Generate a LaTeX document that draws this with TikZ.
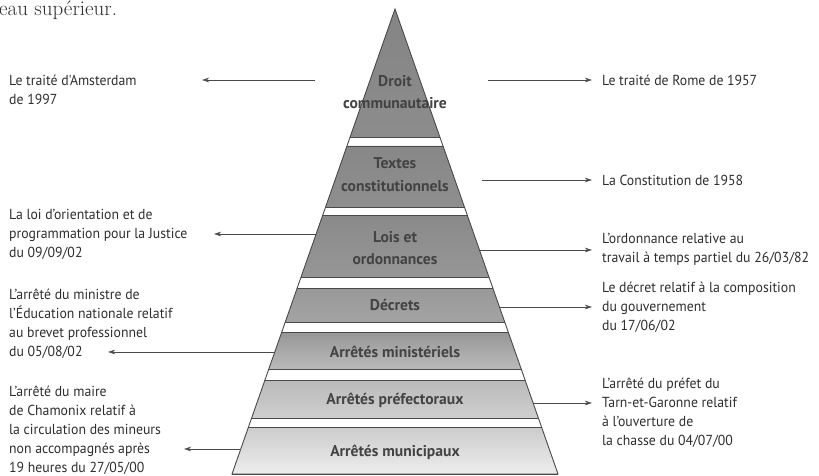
\documentclass[tikz,border=0pt]{standalone}
\usepackage{fontspec}
\setsansfont{PT Sans}
\newfontfamily\etroit{PT Sans}[FakeStretch=0.95]
\usetikzlibrary{arrows.meta,calc}
\definecolor{texte}{HTML}{2E2E2E}
\definecolor{trait}{HTML}{4A4A4A}
\tikzstyle{fleche}=[draw=trait,line width=0.6pt,-{Stealth[length=7pt,width=4.5pt,inset=2pt]}]
\tikzstyle{renvoi}=[inner sep=0pt,anchor=west,text=texte,align=left,font=\etroit\fontsize{14.5}{19}\selectfont]
\tikzstyle{niveau}=[inner sep=0pt,text=texte!90,align=center,font=\sffamily\bfseries\fontsize{15.6}{22.5}\selectfont]
\tikzstyle{bord}=[draw=trait,line width=0.7pt]
\newcommand{\setpyramid}[4]{

\pgfmathsetmacro{\cx}{#1}
\pgfmathsetmacro{\ay}{#2}
\pgfmathsetmacro{\by}{#3}
\pgfmathsetmacro{\hw}{#4}
\pgfmathsetmacro{\pente}{\hw/(\by-\ay)}
\coordinate (apex) at (\cx,\ay);
\coordinate (baseL) at (\cx-\hw,\by);
\coordinate (baseR) at (\cx+\hw,\by);

}
\newcommand{\drawband}[4]{

\pgfmathsetmacro{\xt}{\pente*(#1-\ay)}
\pgfmathsetmacro{\xb}{\pente*(#2-\ay)}
\shade[top color=#3,bottom color=#4] (\cx-\xt,#1) -- (\cx+\xt,#1) -- (\cx+\xb,#2) -- (\cx-\xb,#2) -- cycle;
\draw[bord] (\cx-\xt,#1) -- (\cx+\xt,#1);
\draw[bord] (\cx-\xb,#2) -- (\cx+\xb,#2);

}
\newcommand{\edgepoint}[3]{
\pgfmathsetmacro{\xe}{\cx+#2*\pente*(#3-\ay)}
\coordinate (#1) at (\xe,#3);
}

\begin{document}
\begin{tikzpicture}[x=1pt,y=-1pt]
	\useasboundingbox (0,0) rectangle (819,476);
	\node[anchor=base west,inner sep=0pt,text=texte,font=\fontsize{21}{21}\selectfont] (entete) at (-1,16) {eau supérieur.};
	\begin{scope}
	\setpyramid{395}{9}{474}{163}
	\drawband{9}{137}{black!48}{black!45}
	\drawband{146}{207}{black!47}{black!44}
	\drawband{215}{277}{black!46}{black!41}
	\drawband{288}{322}{black!40}{black!36}
	\drawband{332}{369}{black!41}{black!27}
	\drawband{380}{418}{black!27}{black!19}
	\drawband{427}{474}{black!20}{black!7}
	\draw[bord,line width=0.9pt] (apex) -- (baseR) -- (baseL) -- cycle;
	% niveaux
	\node[niveau] (droit) at (\cx,92) {Droit\\communautaire};
	\node[niveau] (textes) at (\cx,174.5) {Textes\\constitutionnels};
	\node[niveau] (lois) at (\cx,248) {Lois et\\ordonnances};
	\node[niveau] (decrets) at (\cx,305) {Décrets};
	\node[niveau] (ministeriels) at (\cx,352) {Arrêtés ministériels};
	\node[niveau] (prefectoraux) at (\cx,400) {Arrêtés préfectoraux};
	\node[niveau] (municipaux) at (\cx,452) {Arrêtés municipaux};
	% exemples
	\node[renvoi] (amsterdam) at (9,89.5) {Le traité d'Amsterdam\\de 1997};
	\node[renvoi] (loi) at (9,234) {La loi d’orientation et de\\programmation pour la Justice\\du 09/09/02};
	\node[renvoi] (ministre) at (9,323.5) {L’arrêté du ministre de\\l’Éducation nationale relatif\\au brevet professionnel\\du 05/08/02};
	\node[renvoi] (maire) at (9,430) {L’arrêté du maire\\de Chamonix relatif à\\la circulation des mineurs\\non accompagnés après\\19 heures du 27/05/00};
	\node[renvoi] (rome) at (602,80) {Le traité de Rome de 1957};
	\node[renvoi] (constitution) at (602,180) {La Constitution de 1958};
	\node[renvoi] (ordonnance) at (602,249.5) {L’ordonnance relative au\\travail à temps partiel du 26/03/82};
	\node[renvoi] (decret) at (602,307) {Le décret relatif à la composition\\du gouvernement\\du 17/06/02};
	\node[renvoi] (prefet) at (602,412.5) {L’arrêté du préfet du\\Tarn-et-Garonne relatif\\à l’ouverture de\\la chasse du 04/07/00};
	% fleches
	\coordinate (droitL) at (315,80);
	\coordinate (droitR) at (488,80);
	\coordinate (textesR) at (482,180);
	\edgepoint{loisL}{-1}{234}
	\edgepoint{loisR}{1}{250}
	\edgepoint{decretsR}{1}{307}
	\edgepoint{ministL}{-1}{352}
	\edgepoint{prefR}{1}{403}
	\edgepoint{muniL}{-1}{449}
	\coordinate (amsterdamT) at (202,80);
	\coordinate (loiT) at (214,234);
	\coordinate (ministreT) at (108,352);
	\coordinate (maireT) at (184,449);
	\draw[fleche] (droitL) -- (amsterdamT);
	\draw[fleche] (droitR) -- ([xshift=-10pt]rome.west);
	\draw[fleche] (textesR) -- ([xshift=-10pt]constitution.west);
	\draw[fleche] (loisL) -- (loiT);
	\draw[fleche] (loisR) -- ([xshift=-10pt]ordonnance.west |- loisR);
	\draw[fleche] (decretsR) -- ([xshift=-10pt]decret.west |- decretsR);
	\draw[fleche] (ministL) -- (ministreT);
	\draw[fleche] (prefR) -- ([xshift=-10pt]prefet.west |- prefR);
	\draw[fleche] (muniL) -- (maireT);
	\end{scope}
\end{tikzpicture}
\end{document}
